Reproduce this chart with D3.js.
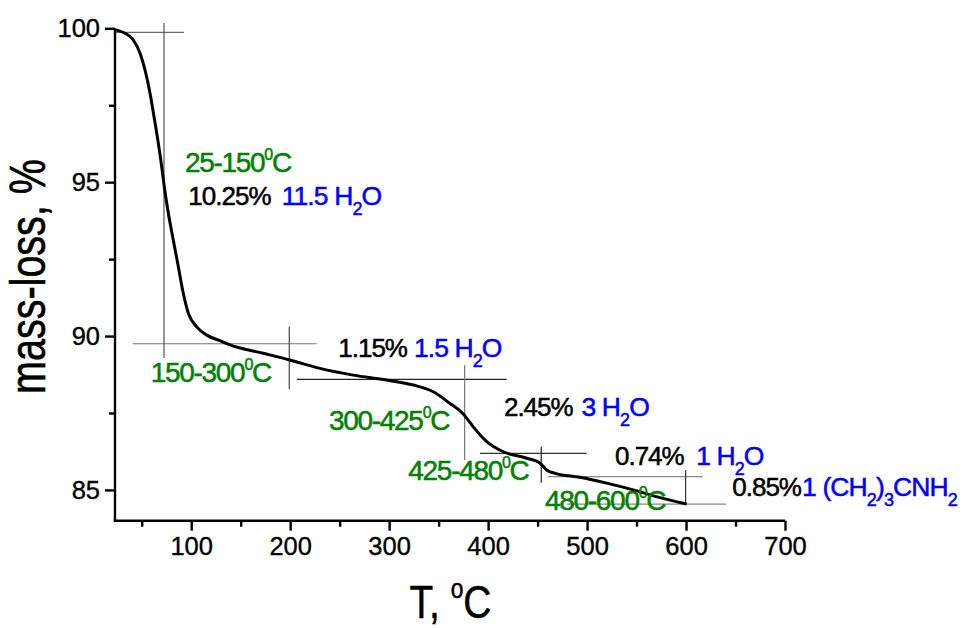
<!DOCTYPE html>
<html>
<head>
<meta charset="utf-8">
<script src="https://cdn.jsdelivr.net/npm/d3@7"></script>
<style>
  html, body { margin: 0; padding: 0; background: #fff; }
  svg { display: block; font-family: "Liberation Sans", Arial, sans-serif; }
</style>
</head>
<body>
<svg id="chart" width="963" height="628"></svg>
<script>
// TGA curve: temperature (°C) and remaining mass (%)
const temperature = [24, 33.1, 41.5, 48.3, 53.3, 58.4, 62.4, 66.8, 70.2, 72.8, 76.9, 81.9, 87.0, 92.0, 97.1,
  105.6, 115.7, 129.1, 139.2, 172.8, 199.8, 230.1, 263.8, 297.5, 324.4, 344.6, 361.5, 374.9, 385.0,
  398.6, 415.3, 439.0, 452.4, 459.2, 467.6, 492.8, 519.8, 546.7, 573.7, 600.6];
const massLoss = [99.95, 99.84, 99.62, 99.19, 98.65, 97.89, 97.13, 96.26, 95.50, 94.85, 93.99, 93.12, 92.25, 91.39, 90.74,
  90.30, 90.03, 89.85, 89.71, 89.44, 89.22, 88.95, 88.73, 88.57, 88.41, 88.19, 87.81, 87.47, 87.05,
  86.57, 86.24, 86.03, 85.87, 85.65, 85.54, 85.41, 85.22, 85.00, 84.75, 84.54];

// axis ticks
const xTicks = [100, 200, 300, 400, 500, 600, 700];
const xMinorTicks = [50, 150, 250, 350, 450, 550, 650];
const yTicks = [85, 90, 95, 100];
const yMinorTicks = [87.5, 92.5, 97.5];

// step construction lines: horizontal [T1, T2, mass], vertical [T, mass1, mass2]
const stepHLines = [[23, 92.7, 99.87], [40.9, 226.8, 89.75], [206.6, 418.8, 88.595], [391.8, 499.6, 86.19], [460.7, 616.8, 85.43], [480, 640.4, 84.54]];
const stepVLines = [[72.5, 89.29, 100.17], [199.1, 88.27, 90.30], [376.3, 85.97, 89.06], [453.7, 85.23, 86.40], [599.6, 84.51, 85.65]];

// temperature ranges of each step and their anchors (T, mass)
const rangeLabels = ["25-150", "150-300", "300-425", "425-480", "480-600"];
const rangeAnchors = [[93.7, 95.34], [59.1, 88.52], [239.2, 86.95], [319.4, 85.32], [457.5, 84.35]];

// mass loss per step, the leaving species, and their anchors
const lossLabels = ["10.25%", "1.15%", "2.45%", "0.74%", "0.85%"];
const lossAnchors = [[97.1, 94.26], [248.6, 89.31], [416.0, 87.40], [528.2, 85.81], [646.7, 84.80]];
const speciesLabels = [
  [["11.5 H", ""], ["2", "sub"], ["O", ""]],
  [["1.5 H", ""], ["2", "sub"], ["O", ""]],
  [["3 H", ""], ["2", "sub"], ["O", ""]],
  [["1 H", ""], ["2", "sub"], ["O", ""]],
  [["1 (CH", ""], ["2", "sub"], [")", ""], ["3", "sub"], ["CNH", ""], ["2", "sub"]]
];
const speciesStartT = [191.4, 325.0, 494.4, 610.2, 717.3];

const svg = d3.select("#chart");

const x = d3.scaleLinear().domain([23, 700]).range([115, 785]);
const y = d3.scaleLinear().domain([84, 100]).range([520.7, 28.3]);

// construction lines
const lineTones = ["#6a6a6a", "#777", "#222", "#333", "#888", "#888"];
const vTones = ["#555", "#444", "#777", "#222", "#333"];
svg.append("g").selectAll("line").data(stepHLines).join("line")
  .attr("x1", d => x(d[0])).attr("x2", d => x(d[1]))
  .attr("y1", d => y(d[2])).attr("y2", d => y(d[2]))
  .attr("stroke", (d, i) => lineTones[i]).attr("stroke-width", 1.2);
svg.append("g").selectAll("line").data(stepVLines).join("line")
  .attr("x1", d => x(d[0])).attr("x2", d => x(d[0]))
  .attr("y1", d => y(d[1])).attr("y2", d => y(d[2]))
  .attr("stroke", (d, i) => vTones[i]).attr("stroke-width", 1.2);

// axes
const axisColor = "#000";
const gx = svg.append("g").attr("transform", `translate(0,${y.range()[0]})`);
gx.call(d3.axisBottom(x).tickValues(xTicks).tickSize(10).tickSizeOuter(0).tickPadding(6));
const gxm = svg.append("g").attr("transform", `translate(0,${y.range()[0]})`);
gxm.call(d3.axisBottom(x).tickValues(xMinorTicks).tickSize(6).tickFormat(""));
gxm.select(".domain").remove();

const gy = svg.append("g").attr("transform", `translate(${x.range()[0]},0)`);
gy.call(d3.axisLeft(y).tickValues(yTicks).tickSize(10).tickSizeOuter(0).tickPadding(5));
const gym = svg.append("g").attr("transform", `translate(${x.range()[0]},0)`);
gym.call(d3.axisLeft(y).tickValues(yMinorTicks).tickSize(6).tickFormat(""));
gym.select(".domain").remove();

[gx, gxm, gy, gym].forEach(g => {
  g.selectAll("path, line").attr("stroke", axisColor).attr("stroke-width", 2.4);
  g.selectAll("text").attr("fill", "#000").attr("font-size", 25.5)
    .attr("stroke", "#000").attr("stroke-width", 0.35)
    .attr("font-family", "'Liberation Sans', Arial, sans-serif");
});
gx.select(".domain").attr("d", `M${x.range()[0] - 1.2},0H${x.range()[1]}`);
gy.select(".domain").attr("d", `M0,${y.range()[1]}V${y.range()[0] + 1.2}`);

// TGA curve
const line = d3.line()
  .x((d, i) => x(temperature[i]))
  .y(d => y(d))
  .curve(d3.curveMonotoneX);
svg.append("path").datum(massLoss)
  .attr("d", line)
  .attr("fill", "none").attr("stroke", "#000").attr("stroke-width", 3)
  .attr("stroke-linejoin", "round");

// temperature range labels (green) with raised "0" and C
rangeLabels.forEach((lab, i) => {
  const t = svg.append("text")
    .attr("x", x(rangeAnchors[i][0])).attr("y", y(rangeAnchors[i][1]))
    .attr("fill", "#008000").attr("stroke", "#008000").attr("stroke-width", 0.5)
    .attr("font-size", 28).attr("letter-spacing", -1.3);
  t.append("tspan").text(lab);
  t.append("tspan").attr("dy", -12).attr("font-size", 16).text("0");
  t.append("tspan").attr("dy", 12).text("C");
});

// mass-loss percentages (black) followed by the species (blue)
lossLabels.forEach((lab, i) => {
  svg.append("text")
    .attr("x", x(lossAnchors[i][0])).attr("y", y(lossAnchors[i][1]))
    .attr("fill", "#000").attr("stroke", "#000").attr("stroke-width", 0.5)
    .attr("font-size", 26).attr("letter-spacing", -1)
    .text(lab);
  const t = svg.append("text")
    .attr("x", x(speciesStartT[i])).attr("y", y(lossAnchors[i][1]))
    .attr("fill", "#0000ff").attr("stroke", "#0000ff").attr("stroke-width", 0.5)
    .attr("font-size", 26.5).attr("letter-spacing", -0.9);
  let shifted = false;
  speciesLabels[i].forEach(([s, kind]) => {
    const sp = t.append("tspan").text(s);
    if (kind === "sub" && !shifted) { sp.attr("dy", 10).attr("font-size", 18); shifted = true; }
    else if (kind === "sub") { sp.attr("font-size", 18); }
    else if (shifted) { sp.attr("dy", -10); shifted = false; }
  });
});

// axis titles (condensed horizontally)
svg.append("text")
  .attr("transform", "translate(45,276.5) rotate(-90) scale(0.79,1)")
  .attr("text-anchor", "middle").attr("font-size", 50)
  .attr("stroke", "#000").attr("stroke-width", 0.6)
  .attr("fill", "#000").text("mass-loss, %");

const xt = svg.append("text")
  .attr("transform", "translate(450.5,618) scale(0.845,1)")
  .attr("text-anchor", "middle")
  .attr("font-size", 46).attr("fill", "#000")
  .attr("stroke", "#000").attr("stroke-width", 0.5);
xt.append("tspan").text("T, ");
xt.append("tspan").attr("dy", -20).attr("font-size", 27).text("o");
xt.append("tspan").attr("dy", 20).text("C");
</script>
</body>
</html>
